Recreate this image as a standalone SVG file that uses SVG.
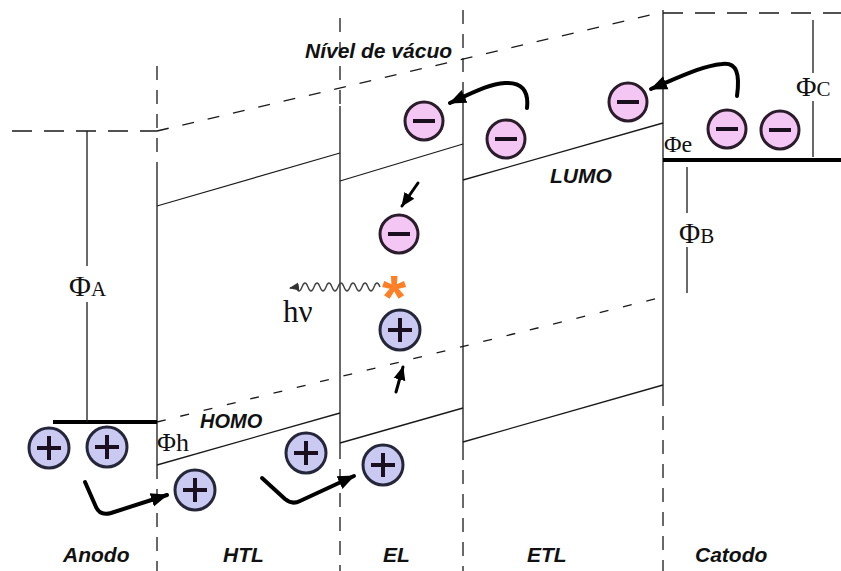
<svg xmlns="http://www.w3.org/2000/svg" width="841" height="571" viewBox="0 0 841 571">
<style>
.ln{stroke:#1a1a1a;stroke-width:1.3;fill:none}
.dsh{stroke:#1a1a1a;stroke-width:1.3;fill:none;stroke-dasharray:12 14}
.vd{stroke:#1a1a1a;stroke-width:1.3;fill:none;stroke-dasharray:14 10}
.thick{stroke:#000;stroke-width:4;fill:none}
.arr{stroke:#000;stroke-width:4;fill:none;stroke-linecap:round;stroke-linejoin:round}
.lbl{font-family:"Liberation Sans",Arial,sans-serif;font-weight:bold;font-style:italic;font-size:21px;fill:#111}
.phi{font-family:"Liberation Serif","Times New Roman",serif;fill:#111}
.ec{fill:#f4c6f4;stroke:#2a1c2a;stroke-width:3}
.hc{fill:#c9c9f2;stroke:#26263a;stroke-width:3}
.sign{stroke:#1a0f1f;stroke-width:4;stroke-linecap:butt}
</style>
<defs>
<marker id="ah" markerUnits="userSpaceOnUse" markerWidth="20" markerHeight="16" refX="16" refY="8" orient="auto">
<path d="M0,1 L17,8 L0,15 Z" fill="#000"/>
</marker>
<marker id="ahs" markerUnits="userSpaceOnUse" markerWidth="16" markerHeight="14" refX="13" refY="7" orient="auto">
<path d="M0,1 L14,7 L0,13 Z" fill="#000"/>
</marker>
<marker id="ahw" markerUnits="userSpaceOnUse" markerWidth="12" markerHeight="10" refX="9" refY="5" orient="auto">
<path d="M0,1 L10,5 L0,9 Z" fill="#333"/>
</marker>
<g id="electron">
<circle r="19" class="ec"/>
<line x1="-11" y1="0" x2="11" y2="0" class="sign"/>
</g>
<g id="hole">
<circle r="20" class="hc"/>
<line x1="-12" y1="0" x2="12" y2="0" class="sign"/>
<line x1="0" y1="-12" x2="0" y2="12" class="sign"/>
</g>
</defs>
<rect width="841" height="571" fill="#fff"/>

<g id="structure">
<line class="vd" x1="157" y1="66" x2="157" y2="175"/>
<line class="ln" x1="157" y1="175" x2="157" y2="465"/>
<line class="vd" x1="157" y1="465" x2="157" y2="571"/>
<line class="vd" x1="340" y1="18" x2="340" y2="106"/>
<line class="ln" x1="340" y1="106" x2="340" y2="445"/>
<line class="vd" x1="340" y1="445" x2="340" y2="571"/>
<line class="vd" x1="463" y1="10" x2="463" y2="92"/>
<line class="ln" x1="463" y1="92" x2="463" y2="446"/>
<line class="vd" x1="463" y1="446" x2="463" y2="571"/>
<line class="ln" x1="663" y1="10" x2="663" y2="392"/>
<line class="vd" x1="663" y1="392" x2="663" y2="571"/>
<line class="dsh" x1="12" y1="131" x2="157" y2="131" style="stroke-dasharray:20 12"/>
<line class="dsh" x1="157" y1="131" x2="663" y2="12"/>
<line class="dsh" x1="663" y1="13" x2="841" y2="13" style="stroke-dasharray:20 12"/>
<line class="dsh" x1="157" y1="422" x2="663" y2="297" style="stroke-dasharray:9 15"/>
<line class="ln" x1="157" y1="206" x2="340" y2="153"/>
<line class="ln" x1="340" y1="181" x2="463" y2="144"/>
<line class="ln" x1="463" y1="180" x2="663" y2="123"/>
<line class="ln" x1="157" y1="465" x2="340" y2="413"/>
<line class="ln" x1="340" y1="443" x2="463" y2="408"/>
<line class="ln" x1="463" y1="442" x2="663" y2="385"/>
<line class="thick" x1="53" y1="422" x2="157" y2="422"/>
<line class="thick" x1="663" y1="160" x2="841" y2="160"/>
<line class="ln" x1="87" y1="131" x2="87" y2="266"/>
<line class="ln" x1="87" y1="302" x2="87" y2="422"/>
<line class="ln" x1="813" y1="20" x2="813" y2="73"/>
<line class="ln" x1="813" y1="101" x2="813" y2="157"/>
<line class="ln" x1="687" y1="167" x2="687" y2="213"/>
<line class="ln" x1="687" y1="247" x2="687" y2="293"/>
</g>

<g id="labels">
<text class="lbl" x="305" y="58">Nível de vácuo</text>
<text class="lbl" x="550" y="183">LUMO</text>
<text class="lbl" x="200" y="428" style="font-size:20px">HOMO</text>
<text class="lbl" x="63" y="562">Anodo</text>
<text class="lbl" x="223" y="562">HTL</text>
<text class="lbl" x="383" y="562">EL</text>
<text class="lbl" x="527" y="562">ETL</text>
<text class="lbl" x="695" y="562">Catodo</text>
<text class="phi" x="69" y="296" style="font-size:30px">Φ<tspan style="font-size:21px">A</tspan></text>
<text class="phi" x="796" y="96" style="font-size:28px">Φ<tspan style="font-size:21px">C</tspan></text>
<text class="phi" x="679" y="243" style="font-size:29px">Φ<tspan style="font-size:21px">B</tspan></text>
<text class="phi" x="664" y="152" style="font-size:24px">Φe</text>
<text class="phi" x="157" y="451" style="font-size:26px">Φh</text>
<text class="phi" x="283" y="322" style="font-size:31px">hν</text>
</g>

<g id="electrons">
<use id="e1" href="#electron" x="424" y="121"/>
<use id="e2" href="#electron" x="506" y="139"/>
<use id="e3" href="#electron" x="628" y="102"/>
<use id="e4" href="#electron" x="727" y="129"/>
<use id="e5" href="#electron" x="780" y="130"/>
<use id="e6" href="#electron" x="399" y="234"/>
</g>

<g id="holes">
<use id="h1" href="#hole" x="49" y="448"/>
<use id="h2" href="#hole" x="107" y="447"/>
<use id="h3" href="#hole" x="195" y="490"/>
<use id="h4" href="#hole" x="306" y="453"/>
<use id="h5" href="#hole" x="383" y="465"/>
<use id="h6" href="#hole" x="400" y="330"/>
</g>

<g id="exciton">
<text x="394" y="318" text-anchor="middle" style="font-family:'Liberation Sans',Arial,sans-serif;font-weight:bold;font-size:62px;fill:#ff7f27">*</text>
</g>

<g id="connectors">
<path class="arr" d="M527,108 C529,90 521,82 505,83 C489,84 474,92 450,103" marker-end="url(#ah)"/>
<path class="arr" d="M737,96 C740,74 737,62 722,64 C702,66 682,76 651,89" marker-end="url(#ah)"/>
<path class="arr" d="M85,482 L96,507 Q100,516 111,513 L167,495" marker-end="url(#ah)"/>
<path class="arr" d="M262,478 L285,499 Q292,505 300,501 L354,476" marker-end="url(#ah)"/>
<path class="arr" style="stroke-width:3" d="M418,183 L402,206" marker-end="url(#ahs)"/>
<path class="arr" style="stroke-width:3" d="M396,392 L403,367" marker-end="url(#ahs)"/>
<path d="M380,287 q-3,-8 -6,0 t-6,0 t-6,0 t-6,0 t-6,0 t-6,0 t-6,0 t-6,0 t-6,0 t-6,0 t-6,0 t-6,0 t-6,0 t-6,0 L290,288" fill="none" stroke="#444" stroke-width="1.4" marker-end="url(#ahw)"/>
</g>
</svg>
